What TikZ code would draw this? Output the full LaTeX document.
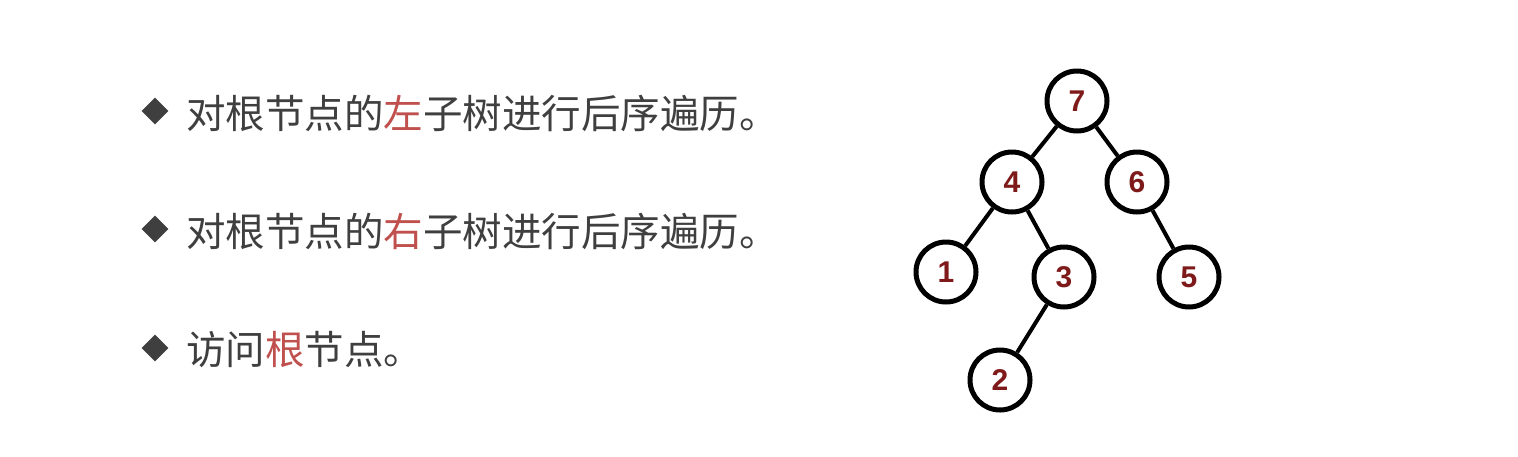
\documentclass[tikz,border=0pt]{standalone}
\usepackage{fontspec}
\newfontfamily\cjk{Noto Sans CJK SC}
\newfontfamily\num{Liberation Sans}
\usetikzlibrary{shapes.geometric}
\definecolor{txtgray}{HTML}{3F3F3F}
\definecolor{hlred}{HTML}{C0504D}
\definecolor{numred}{HTML}{7F1A1A}
\tikzset{
  bullet/.style={diamond, fill=txtgray, minimum width=27pt, minimum height=27pt, inner sep=0pt},
  line/.style={anchor=west, inner sep=0pt, text=txtgray, font=\cjk\fontsize{39.5}{44}\selectfont},
  tnode/.style={circle, draw=black, line width=5pt, minimum size=60pt, inner sep=0pt,
    text=numred, font=\num\bfseries\fontsize{30}{30}\selectfont},
  edge/.style={line width=4pt, black}
}
\begin{document}
\begin{tikzpicture}[x=1pt,y=-1pt]
\useasboundingbox[fill=white] (0,0) rectangle (1518,456);
\node[bullet] (b1) at (155,111) {};
\node[bullet] (b2) at (155,229) {};
\node[bullet] (b3) at (155,348) {};
\node[line] (t1) at (186,113) {对根节点的\textcolor{hlred}{左}子树进行后序遍历。};
\node[line] (t2) at (186,231) {对根节点的\textcolor{hlred}{右}子树进行后序遍历。};
\node[line] (t3) at (186,350) {访问\textcolor{hlred}{根}节点。};
\node[tnode] (n7) at (1077,101) {7};
\node[tnode] (n4) at (1012,182) {4};
\node[tnode] (n6) at (1137,182) {6};
\node[tnode] (n1) at (946,272) {1};
\node[tnode] (n3) at (1064,277) {3};
\node[tnode] (n5) at (1189,277) {5};
\node[tnode] (n2) at (1000,380) {2};
\draw[edge] (n7) -- (n4);
\draw[edge] (n7) -- (n6);
\draw[edge] (n4) -- (n1);
\draw[edge] (n4) -- (n3);
\draw[edge] (n6) -- (n5);
\draw[edge] (n3) -- (n2);
\end{tikzpicture}
\end{document}
